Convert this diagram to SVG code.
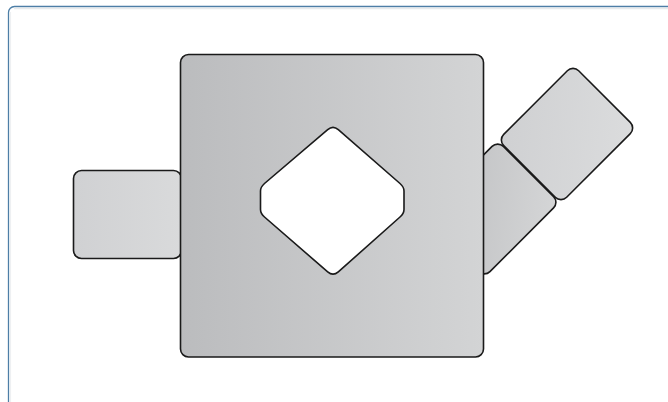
<svg xmlns="http://www.w3.org/2000/svg" width="668" height="402" viewBox="0 0 668 402">
  <defs>
    <linearGradient id="gMain" x1="0" y1="0" x2="1" y2="0">
      <stop offset="0" stop-color="#bbbcbe"/>
      <stop offset="1" stop-color="#d3d4d5"/>
    </linearGradient>
    <linearGradient id="gLeft" x1="0" y1="0" x2="1" y2="0">
      <stop offset="0" stop-color="#d0d1d3"/>
      <stop offset="1" stop-color="#d9dadb"/>
    </linearGradient>
    <linearGradient id="gP1" x1="0" y1="0" x2="1" y2="1">
      <stop offset="0" stop-color="#bcbdbf"/>
      <stop offset="1" stop-color="#d5d6d7"/>
    </linearGradient>
    <linearGradient id="gP2" x1="0" y1="0" x2="1" y2="1">
      <stop offset="0" stop-color="#cfd0d2"/>
      <stop offset="1" stop-color="#dbdcdd"/>
    </linearGradient>
  </defs>
  <style>
    .shape { stroke: #1a1a1a; stroke-width: 1.6; }
  </style>
  <rect x="0" y="0" width="668" height="402" fill="#ffffff"/>
  <g id="frame">
    <rect x="8.5" y="6.5" width="690" height="430" rx="6" fill="#ffffff" stroke="#4d7ea6" stroke-width="1.3"/>
    <line x1="14" y1="8.5" x2="668" y2="8.5" stroke="#e8eaec" stroke-width="1.5"/>
    <line x1="10.5" y1="12" x2="10.5" y2="402" stroke="#eef0f2" stroke-width="1.2"/>
  </g>
  <g id="left-box">
    <rect class="shape" x="73.5" y="170.5" width="108" height="88" rx="8" fill="url(#gLeft)"/>
  </g>
  <g id="right-piece-lower">
    <rect class="shape" x="438" y="165.5" width="106" height="87" rx="8" fill="url(#gP1)" transform="rotate(-45 491 209)"/>
  </g>
  <g id="right-piece-upper">
    <rect class="shape" x="514" y="89.5" width="106" height="89" rx="8" fill="url(#gP2)" transform="rotate(-45 567 134)"/>
  </g>
  <g id="main-square">
    <rect class="shape" x="180.5" y="54.5" width="303" height="302.5" rx="8" fill="url(#gMain)"/>
  </g>
  <g id="center-diamond">
    <path class="shape" fill="#ffffff" d="M 327.7,129.6 Q 333,125 338.3,129.6 L 400,183.5 Q 404,187 404,191 L 404,209.5 Q 404,213.5 400,217 L 338.3,271.9 Q 333,276.5 327.7,271.9 L 264.5,217 Q 260.5,213.5 260.5,209.5 L 260.5,191 Q 260.5,187 264.5,183.5 Z"/>
  </g>
</svg>
